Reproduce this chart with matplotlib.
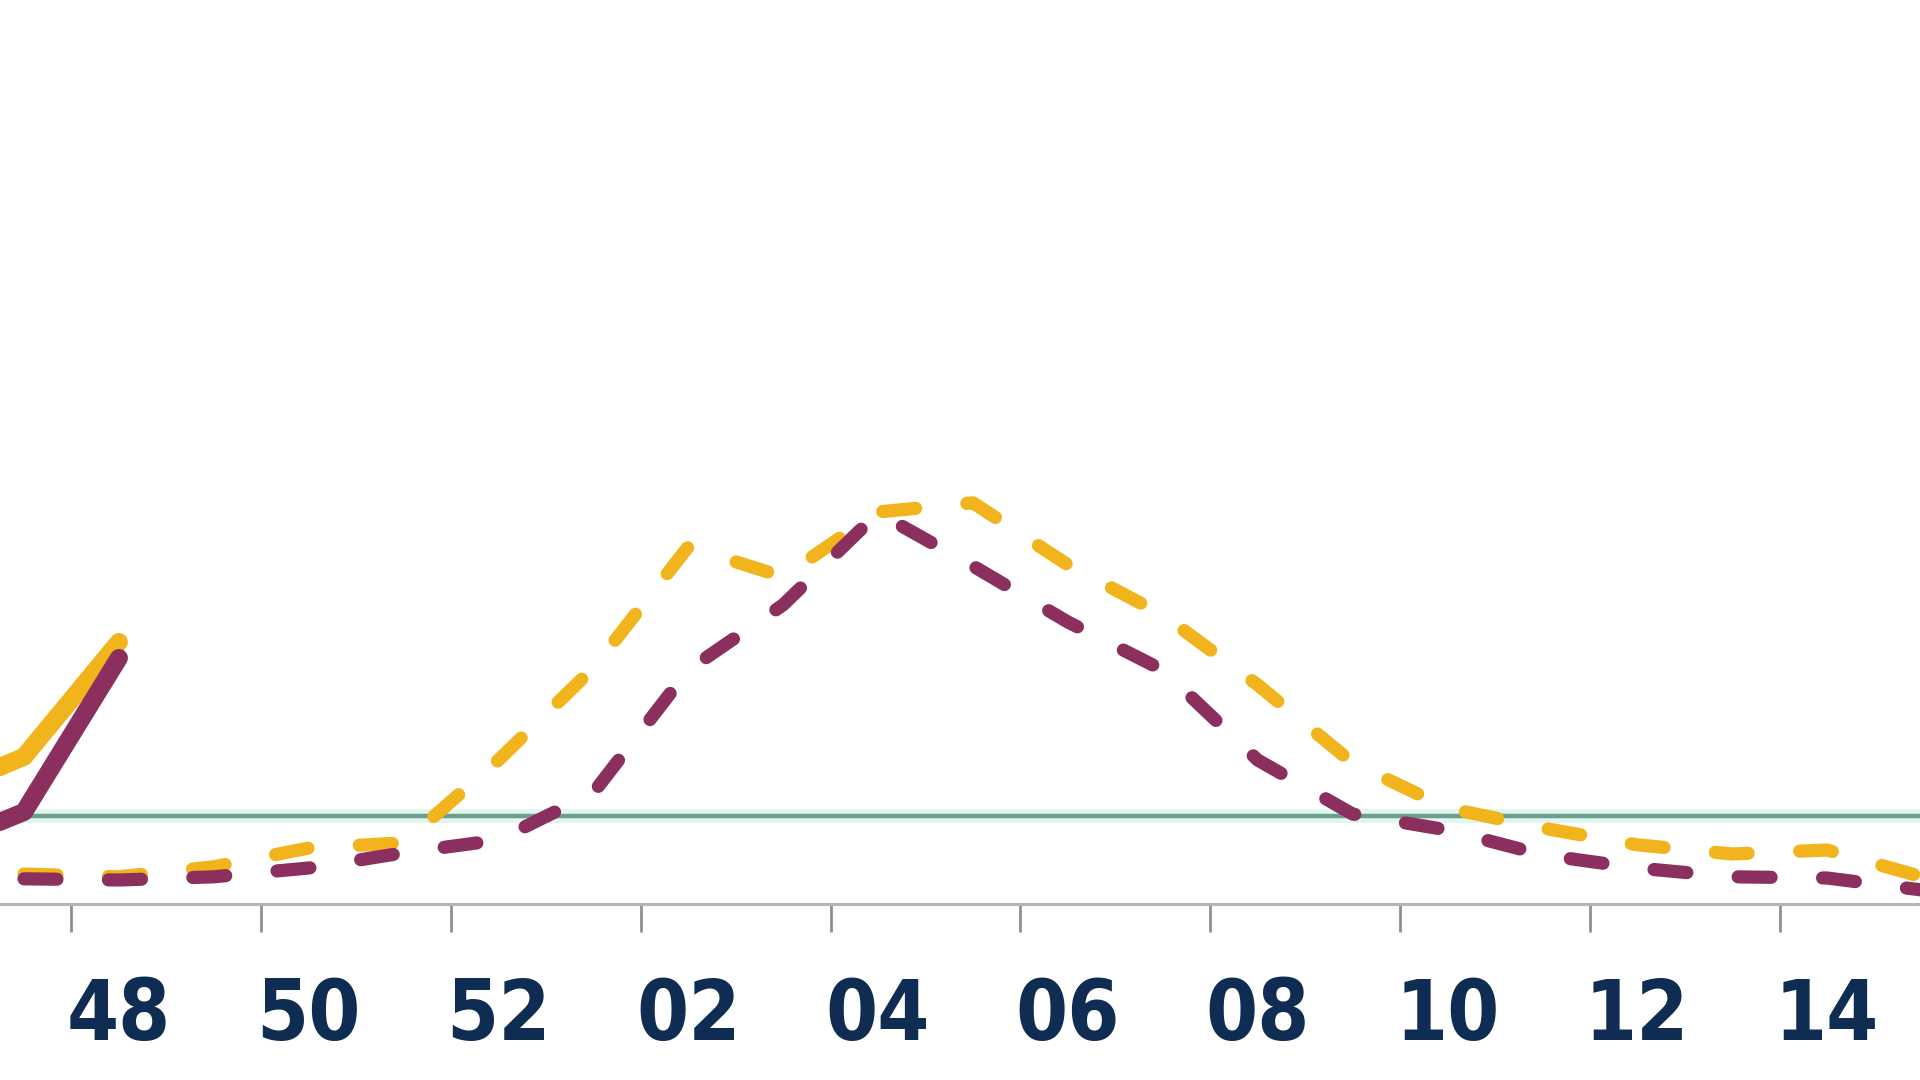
import matplotlib
matplotlib.use("Agg")
import matplotlib.pyplot as plt
from matplotlib import font_manager

# weeks shown on the category axis (46 sits just off the left edge)
weeks = ["46", "47", "48", "49", "50", "51", "52", "01", "02", "03", "04",
         "05", "06", "07", "08", "09", "10", "11", "12", "13", "14", "15"]

# current season (solid), weeks 46-48
cur_yellow = [26.8, 36.8, 65.5]
cur_purple = [13.3, 23.0, 61.5]

# previous season (dashed), weeks 47-15
prev_yellow = [7.5, 6.8, 9.3, 14.0, 15.3, 36.0, 59.0, 89.3, 81.8, 98.0, 100.3,
               84.8, 72.3, 54.8, 35.3, 24.0, 19.0, 14.8, 12.5, 13.5, 6.8]
prev_purple = [6.3, 6.0, 6.8, 9.0, 12.8, 16.0, 27.8, 58.5, 74.8, 97.8, 84.5,
               70.5, 58.5, 36.0, 22.5, 18.5, 12.3, 9.0, 6.8, 6.5, 3.5]

threshold = 22.0

YELLOW = "#f2b41c"
PURPLE = "#8b2f5e"
GREEN = "#6b9e8c"
NAVY = "#0f2d52"

# a narrow bold face for the week labels if one is installed
label_prop = None
for f in font_manager.fontManager.ttflist:
    fn = f.fname.lower()
    if ("narrow" in fn or "condensed" in fn) and f.weight in (700, "bold") \
            and "italic" not in fn and "oblique" not in fn:
        label_prop = font_manager.FontProperties(fname=f.fname, size=60)
        break
if label_prop is None:
    label_prop = font_manager.FontProperties(family="Liberation Sans",
                                             weight="bold", size=54)

fig = plt.figure(figsize=(19.2, 10.8), dpi=100)
ax = fig.add_axes([0, 176 / 1080, 1, 904 / 1080])

x_all = list(range(-1, len(weeks) - 1))   # week 47 -> 0
x_cur = x_all[:len(cur_yellow)]
x_prev = x_all[1:1 + len(prev_yellow)]

# threshold with its soft halo
ax.axhline(threshold, color="#dff5ee", lw=10, zorder=1)
ax.axhline(threshold, color=GREEN, lw=3.2, zorder=2)

dash = (2.5, 3.9)
ax.plot(x_prev, prev_yellow, color=YELLOW, lw=9.5, ls=(0, dash),
        dash_capstyle="round", zorder=3)
ax.plot(x_prev, prev_purple, color=PURPLE, lw=9.5, ls=(0, dash),
        dash_capstyle="round", zorder=3)

ax.plot(x_cur, cur_yellow, color=YELLOW, lw=13, solid_capstyle="round", zorder=4)
ax.plot(x_cur, cur_purple, color=PURPLE, lw=13, solid_capstyle="round", zorder=4)

ax.set_xlim(-0.253, 19.98)
ax.set_ylim(0, 226)

# tick marks between categories, labels on every other week
ax.set_xticks([i + 0.5 for i in range(0, 20, 2)])
ax.set_xticklabels([])
ax.set_xticks(list(range(1, 20, 2)), minor=True)
ax.set_xticklabels([weeks[i + 1] for i in range(1, 20, 2)], minor=True,
                   fontproperties=label_prop, color=NAVY)
ax.tick_params(axis="x", which="major", direction="out", length=20,
               width=2, color="#8f8f8f")
ax.tick_params(axis="x", which="minor", length=0, pad=52)
ax.set_yticks([])

for side in ["top", "right", "left"]:
    ax.spines[side].set_visible(False)
ax.spines["bottom"].set_color("#b5b5b5")
ax.spines["bottom"].set_linewidth(2.2)

fig.savefig("out.png", dpi=100)
